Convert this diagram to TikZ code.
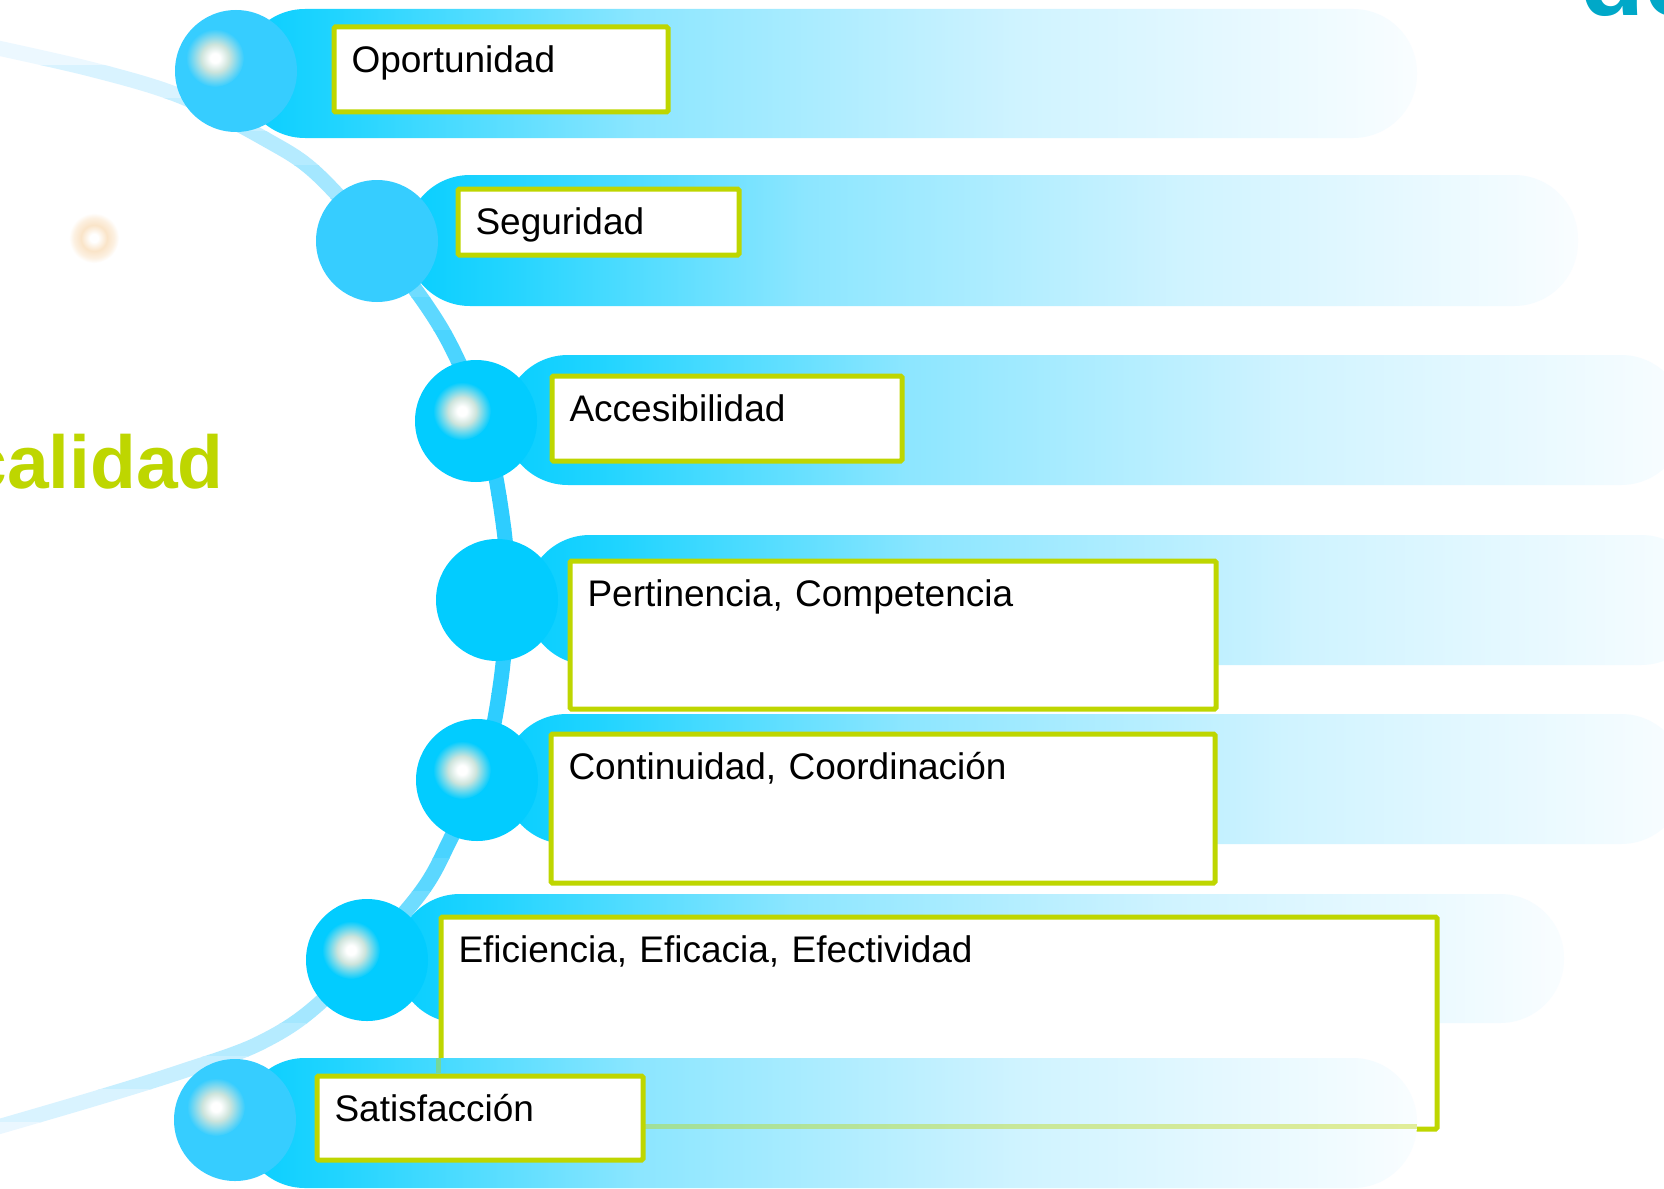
\documentclass[tikz,border=0pt]{standalone}
\usepackage{fontspec}
\setmainfont{Liberation Sans}
\definecolor{bandc}{RGB}{8,206,255}
\definecolor{bandcA}{RGB}{32,212,255}
\definecolor{bandcB}{RGB}{140,230,255}
\definecolor{bandcC}{RGB}{207,243,255}
\definecolor{bandcD}{RGB}{249,253,255}
\definecolor{circA}{RGB}{54,205,255}
\definecolor{circB}{RGB}{2,204,255}
\definecolor{boxgreen}{RGB}{190,214,0}
\definecolor{arcdark}{RGB}{46,205,255}
\definecolor{arclight}{RGB}{242,249,255}
\definecolor{glowg}{RGB}{205,228,220}
\definecolor{peach}{RGB}{250,228,200}
\definecolor{titleblue}{RGB}{0,168,200}
\pgfdeclarehorizontalshading{bandsh}{100bp}{color(0bp)=(bandc); color(25bp)=(bandc); color(29bp)=(bandcA); color(42bp)=(bandcB); color(58bp)=(bandcC); color(75bp)=(bandcD); color(100bp)=(bandcD)}
\pgfdeclareradialshading{glowA}{\pgfpoint{0bp}{0bp}}{color(0bp)=(white); color(4bp)=(white); color(12bp)=(glowg); color(25bp)=(circA); color(50bp)=(circA)}
\pgfdeclareradialshading{glowB}{\pgfpoint{0bp}{0bp}}{color(0bp)=(white); color(4bp)=(white); color(12bp)=(glowg); color(25bp)=(circB); color(50bp)=(circB)}
\pgfdeclareradialshading{peachglow}{\pgfpoint{0bp}{0bp}}{color(0bp)=(white); color(4bp)=(white); color(13bp)=(peach); color(20bp)=(peach!55!white); color(25bp)=(white); color(50bp)=(white)}
\begin{document}
\begin{tikzpicture}[x=1pt,y=-1pt,
  band/.style={shading=bandsh, rounded corners=64pt},
  ball/.style={circle, inner sep=0pt, minimum size=122pt, draw=none},
  arcline/.style={line width=15pt},
  lbl/.style={draw=boxgreen, line width=5pt, fill=white, anchor=north west,
     inner xsep=17.5pt, inner ysep=0pt, align=left, text height=45.5pt,
     font=\fontsize{37}{44}\selectfont, rounded corners=1.5pt}]
\useasboundingbox (0,0) rectangle (1664,1188);
\clip (0,0) rectangle (1664,1188);
\fill[white] (0,0) rectangle (1664,1188);

% arc behind everything, colour changing with height
\foreach \i in {0,...,35}{
  \pgfmathsetmacro\yav{33*\i}
  \pgfmathsetmacro\tv{min(1,abs(\yav+16.5-595)/560)}
  \pgfmathtruncatemacro\pcv{\tv<0.35 ? 100 : 100*(1-\tv)/0.65}
  \begin{scope}
    \clip (-10,\yav) rectangle (1700,\yav+33.5);
    \draw[arcline, draw=arcdark!\pcv!arclight] plot[smooth, tension=0.55] coordinates {
      (-30,42) (90,69) (180,96) (265,139) (317,174) (385,250) (445,335) (485,430)
      (504,530) (507,600) (501,680) (485,760) (450,840) (415,900) (323,1000)
      (260,1043) (180,1072) (90,1100) (-30,1135)};
  \end{scope}
}

% peach glow
\shade[shading=peachglow] (94,238) circle (25);

% bands
\shade[band] (241,9) rectangle (1417,138);
\shade[band] (406,175) rectangle (1578,306);
\shade[band] (504,355) rectangle (1685,485);
\shade[band] (526,535) rectangle (1705,665);
\shade[band] (503,714) rectangle (1685,844);
\shade[band] (396,894) rectangle (1564,1023);

% circles
\node[ball, fill=circA] (c1) at (236,71) {};
\node[ball, fill=circA] (c2) at (377,241) {};
\node[ball, fill=circB] (c3) at (476,421) {};
\node[ball, fill=circB] (c4) at (497,600) {};
\node[ball, fill=circB] (c5) at (477,780) {};
\node[ball, fill=circB] (c6) at (367,960) {};
\shade[shading=glowA] (215,58) circle (29);
\shade[shading=glowB] (462,411) circle (29);
\shade[shading=glowB] (462,770) circle (29);
\shade[shading=glowB] (351,950) circle (29);

% boxes
\node[lbl, text width=299pt, text depth=39.5pt] (b1) at (331.5,24.5) {Oportunidad};
\node[lbl, text width=246pt, text depth=20.5pt] (b2) at (455.5,186.5) {Seguridad};
\node[lbl, text width=315pt, text depth=39.5pt] (b3) at (549.5,373.5) {Accesibilidad};
\node[lbl, text width=611pt, text depth=102.5pt] (b4) at (567.5,558.5) {Pertinencia, Competencia};
\node[lbl, text width=629pt, text depth=103.5pt] (b5) at (548.5,731.5) {Continuidad, Coordinación};
\node[lbl, text width=961pt, text depth=166.5pt] (b6) at (438.5,914.5) {Eficiencia, Eficacia, Efectividad};

% last band over box 6, with its edge showing through
\shade[band] (241,1058) rectangle (1417,1188);
\draw[boxgreen, line width=5pt, opacity=0.4] (438.5,1126.5) -- (1417,1126.5);
\draw[boxgreen, line width=5pt, opacity=0.4] (438.5,1058) -- (438.5,1073);
\node[ball, fill=circA] (c7) at (235,1120) {};
\shade[shading=glowA] (216,1107) circle (29);
\node[lbl, text width=291pt, text depth=38.5pt] (b7) at (314.5,1073.5) {Satisfacción};

% titles
\node[anchor=base east, inner sep=0pt, text=boxgreen, font=\fontsize{75}{80}\selectfont\bfseries] (tcal) at (224,488) {calidad};
\node[anchor=base west, inner sep=0pt, text=titleblue, font=\fontsize{105}{110}\selectfont\bfseries] (tde) at (1580,16) {de};
\end{tikzpicture}
\end{document}
